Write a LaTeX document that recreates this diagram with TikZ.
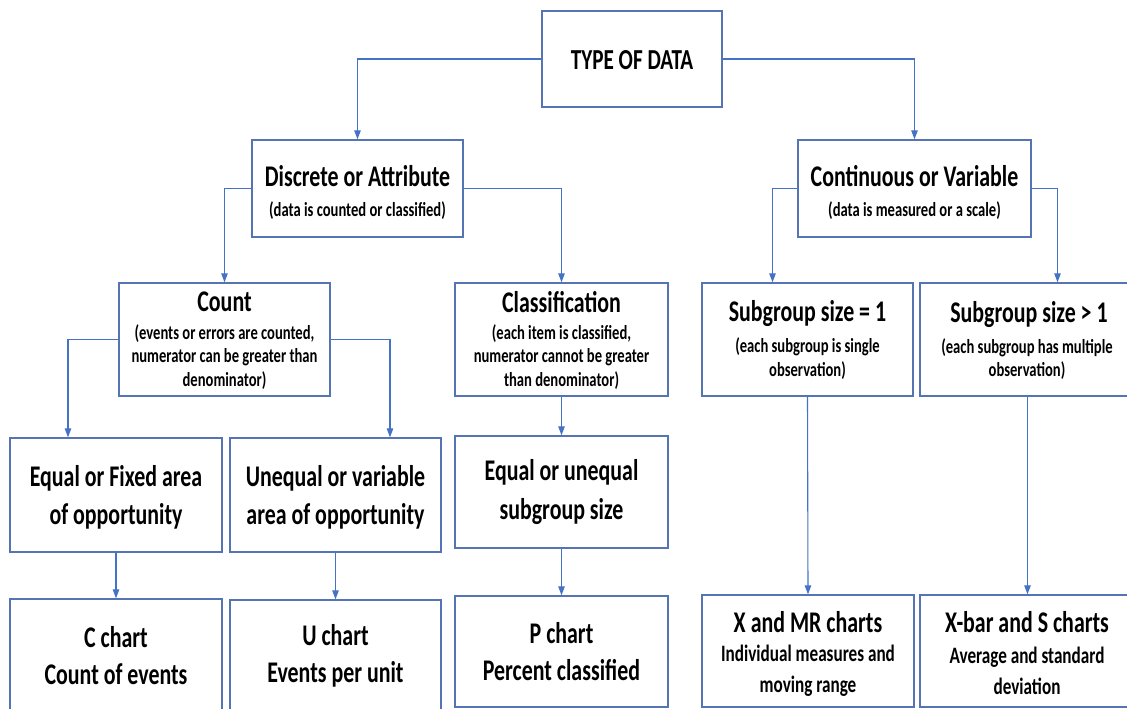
\documentclass[tikz,border=0pt]{standalone}
\usepackage{fontspec}
\setmainfont{Carlito}[FakeStretch=0.73]
\usetikzlibrary{arrows.meta}
\definecolor{boxc}{RGB}{84,116,180}
\definecolor{linec}{RGB}{68,114,196}
\begin{document}
\begin{tikzpicture}[x=1pt,y=-1pt,
  box/.style={draw=boxc, line width=1.4pt, inner sep=0pt, fill=white},
  conn/.style={draw=linec, line width=1.1pt, -{Triangle[length=9pt,width=6.5pt]}},
  ttl/.style={font=\bfseries\fontsize{30}{38}\selectfont, align=center, inner sep=0pt},
  sub/.style={font=\bfseries\fontsize{20}{23.5}\selectfont, align=center, inner sep=0pt},
  subb/.style={font=\bfseries\fontsize{23.5}{31}\selectfont, align=center, inner sep=0pt}]
\useasboundingbox (0,0) rectangle (1127,709);
\clip (0,0) rectangle (1127,709);
\fill[white] (0,0) rectangle (1127,709);
% boxes
\node[box, minimum width=180pt, minimum height=96pt] (top) at (632,59) {};
\node[box, minimum width=211pt, minimum height=97pt] (disc) at (357.5,188.5) {};
\node[box, minimum width=233pt, minimum height=97pt] (cont) at (914.5,188.5) {};
\node[box, minimum width=211pt, minimum height=113pt] (count) at (224.5,339.5) {};
\node[box, minimum width=213pt, minimum height=113pt] (class) at (561.5,339.5) {};
\node[box, minimum width=211pt, minimum height=113pt] (sg1) at (807.5,339.5) {};
\node[box, minimum width=215pt, minimum height=113pt] (sg2) at (1027.5,339.5) {};
\node[box, minimum width=212pt, minimum height=114pt] (eqf) at (116,495) {};
\node[box, minimum width=211pt, minimum height=114pt] (uneq) at (335.5,495) {};
\node[box, minimum width=213pt, minimum height=112pt] (equn) at (561.5,492) {};
\node[box, minimum width=212pt, minimum height=121pt] (cch) at (116,659.5) {};
\node[box, minimum width=211pt, minimum height=120pt] (uch) at (335.5,660) {};
\node[box, minimum width=213pt, minimum height=111pt] (pch) at (561.5,651.5) {};
\node[box, minimum width=212pt, minimum height=112pt] (xmr) at (808,651) {};
\node[box, minimum width=215pt, minimum height=112pt] (xbar) at (1027.5,651) {};
% texts
\node[ttl, font=\bfseries\fontsize{29}{34}\selectfont] (top-t) at (632,60) {TYPE OF DATA};
\node[ttl] (disc-t) at (357.5,176) {Discrete or Attribute};
\node[sub] (disc-s) at (357.5,211) {(data is counted or classified)};
\node[ttl] (cont-t) at (914.5,176) {Continuous or Variable};
\node[sub] (cont-s) at (914.5,211) {(data is measured or a scale)};
\node[ttl] (count-t) at (224.5,302) {Count};
\node[sub] (count-s) at (224.5,357) {(events or errors are counted,\\numerator can be greater than\\denominator)};
\node[ttl] (class-t) at (561.5,302) {Classification};
\node[sub] (class-s) at (561.5,357) {(each item is classified,\\numerator cannot be greater\\than denominator)};
\node[ttl] (sg1-t) at (807.5,314) {Subgroup size = 1};
\node[sub] (sg1-s) at (807.5,358.5) {(each subgroup is single\\observation)};
\node[ttl] (sg2-t) at (1029,315) {Subgroup size > 1};
\node[sub] (sg2-s) at (1027,359) {(each subgroup has multiple\\observation)};
\node[ttl] (eqf-t) at (116,497) {Equal or Fixed area\\of opportunity};
\node[ttl] (uneq-t) at (335.5,497) {Unequal or variable\\area of opportunity};
\node[ttl, font=\bfseries\fontsize{30}{39}\selectfont] (equn-t) at (561.5,492.5) {Equal or unequal\\subgroup size};
\node[ttl, font=\bfseries\fontsize{30}{37}\selectfont] (cch-t) at (116,656) {C chart\\Count of events};
\node[ttl, font=\bfseries\fontsize{30}{37}\selectfont] (uch-t) at (335.5,656) {U chart\\Events per unit};
\node[ttl, font=\bfseries\fontsize{30}{37}\selectfont] (pch-t) at (561.5,652) {P chart\\Percent classified};
\node[ttl] (xmr-t) at (808,622) {X and MR charts};
\node[subb] (xmr-s) at (808,670.5) {Individual measures and\\moving range};
\node[ttl] (xbar-t) at (1027,622) {X-bar and S charts};
\node[subb] (xbar-s) at (1027,670.5) {Average and standard\\deviation};
% connectors
\draw[conn] (top.west) -| (disc.north);
\draw[conn] (top.east) -| (cont.north);
\draw[conn] (disc.west) -| (count.north);
\draw[conn] (disc.east) -| (class.north);
\draw[conn] (cont.west) -| ([xshift=-35pt]sg1.north);
\draw[conn] (cont.east) -| ([xshift=30pt]sg2.north);
\draw[conn] (count.west) -| ([xshift=-48pt]eqf.north);
\draw[conn] (count.east) -| ([xshift=54.5pt]uneq.north);
\draw[conn] (class.south) -- (equn.north);
\draw[conn] (eqf.south) -- (cch.north);
\draw[conn] (uneq.south) -- (uch.north);
\draw[conn] (equn.south) -- (pch.north);
\draw[conn] (sg1.south) -- (xmr.north);
\draw[conn] (sg2.south) -- (xbar.north);
\end{tikzpicture}
\end{document}
